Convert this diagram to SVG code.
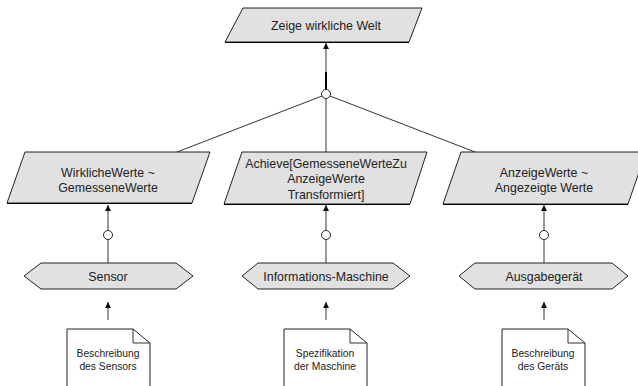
<svg xmlns="http://www.w3.org/2000/svg" width="638" height="386" viewBox="0 0 638 386">
<defs>
<style>
.shape{fill:#e1e1e1;stroke:#222;stroke-width:1}
.doc{fill:#fff;stroke:#222;stroke-width:1}
.t{font-family:"Liberation Sans",Arial,sans-serif;font-size:12.4px;fill:#222;text-anchor:middle}
.ts{font-family:"Liberation Sans",Arial,sans-serif;font-size:10.3px;fill:#222;text-anchor:middle}
.c{stroke:#333;stroke-width:1;fill:none}
.circ{fill:#fff;stroke:#222;stroke-width:1}
</style>
<marker id="ah" viewBox="0 0 6 8" refX="6" refY="4" markerWidth="6" markerHeight="8" orient="auto" markerUnits="userSpaceOnUse">
<path d="M0,1 L6,4 L0,7 z" fill="#111"/>
</marker>
</defs>
<rect width="638" height="386" fill="#fff"/>
<g id="connectors">
<line class="c" x1="326" y1="89" x2="326" y2="43" marker-end="url(#ah)"/>
<line x1="326" y1="72" x2="326" y2="89" stroke="#000" stroke-width="2"/>
<line class="c" x1="322" y1="96" x2="177" y2="152"/>
<line class="c" x1="330" y1="96" x2="475" y2="152"/>
<line class="c" x1="326" y1="98" x2="326" y2="152"/>
<circle class="circ" cx="326" cy="94" r="4.5"/>
<line class="c" x1="108" y1="230" x2="108" y2="205" marker-end="url(#ah)"/>
<line class="c" x1="108" y1="239" x2="108" y2="263"/>
<circle class="circ" cx="108" cy="235" r="4.5"/>
<line class="c" x1="326" y1="230" x2="326" y2="205" marker-end="url(#ah)"/>
<line class="c" x1="326" y1="239" x2="326" y2="263"/>
<circle class="circ" cx="326" cy="235" r="4.5"/>
<line class="c" x1="544" y1="230" x2="544" y2="205" marker-end="url(#ah)"/>
<line class="c" x1="544" y1="239" x2="544" y2="263"/>
<circle class="circ" cx="544" cy="235" r="4.5"/>
<line class="c" x1="108" y1="320" x2="108" y2="302" marker-end="url(#ah)"/>
<line class="c" x1="326" y1="320" x2="326" y2="302" marker-end="url(#ah)"/>
<line class="c" x1="544" y1="320" x2="544" y2="302" marker-end="url(#ah)"/>
</g>
<g id="n-top">
<polygon class="shape" points="243,8 422,8 409,42 225,42"/>
<line x1="225" y1="42.5" x2="409" y2="42.5" stroke="#000" stroke-width="1.2"/>
<text class="t" x="326" y="29.5" font-size="12.8">Zeige wirkliche Welt</text>
</g>
<g id="n-werte">
<polygon class="shape" points="25,152 210,152 192,203 7,203"/>
<line x1="7" y1="203.5" x2="192" y2="203.5" stroke="#000" stroke-width="1.2"/>
<text class="t" x="108" y="176.5">WirklicheWerte ~</text>
<text class="t" x="108" y="191.5">GemesseneWerte</text>
</g>
<g id="n-achieve">
<polygon class="shape" points="242,152 427,152 410,204 224,204"/>
<line x1="224" y1="204.5" x2="410" y2="204.5" stroke="#000" stroke-width="1.2"/>
<text class="t" x="326" y="167.5">Achieve[GemesseneWerteZu</text>
<text class="t" x="326" y="183">AnzeigeWerte</text>
<text class="t" x="326" y="198.5">Transformiert]</text>
</g>
<g id="n-anzeige">
<polygon class="shape" points="461,152 646,152 628,204 443,204"/>
<line x1="443" y1="204.5" x2="628" y2="204.5" stroke="#000" stroke-width="1.2"/>
<text class="t" x="544" y="176.5">AnzeigeWerte ~</text>
<text class="t" x="544" y="191.5">Angezeigte Werte</text>
</g>
<g id="n-sensor">
<polygon class="shape" points="24,276 41,263 176,263 193,276 176,289 41,289"/>
<text class="t" x="108" y="280.5">Sensor</text>
</g>
<g id="n-maschine">
<polygon class="shape" points="242,276 258,263 393,263 410,276 393,289 258,289"/>
<text class="t" x="326" y="280.5">Informations-Maschine</text>
</g>
<g id="n-geraet">
<polygon class="shape" points="459,276 475,263 612,263 628,276 612,289 475,289"/>
<text class="t" x="544" y="280.5">Ausgabegerät</text>
</g>
<g id="d-sensor">
<path class="doc" d="M67,329 H133 L150,343 V390 H67 Z"/>
<path class="c" d="M133,329 V343 H150"/>
<text class="ts" x="108" y="357">Beschreibung</text>
<text class="ts" x="108" y="370">des Sensors</text>
</g>
<g id="d-maschine">
<path class="doc" d="M284,329 H350 L367,343 V390 H284 Z"/>
<path class="c" d="M350,329 V343 H367"/>
<text class="ts" x="325" y="357">Spezifikation</text>
<text class="ts" x="325" y="370">der Maschine</text>
</g>
<g id="d-geraet">
<path class="doc" d="M502,329 H568 L585,343 V390 H502 Z"/>
<path class="c" d="M568,329 V343 H585"/>
<text class="ts" x="543" y="357">Beschreibung</text>
<text class="ts" x="543" y="370">des Geräts</text>
</g>
</svg>
